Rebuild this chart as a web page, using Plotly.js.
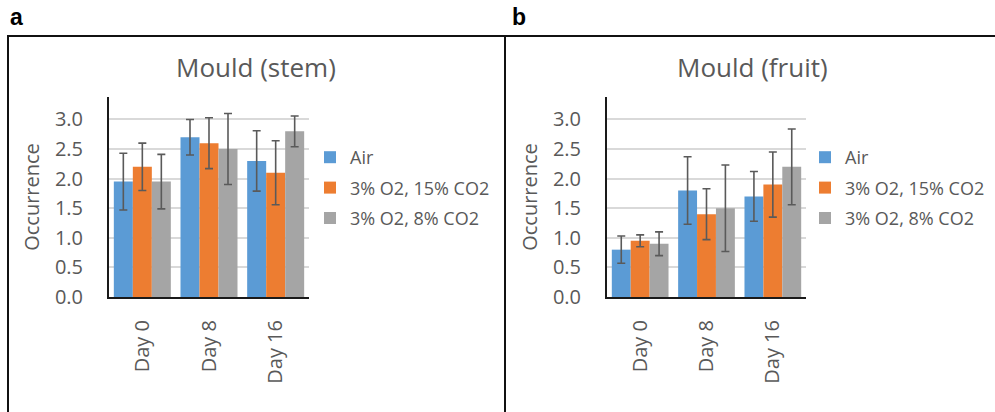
<!DOCTYPE html>
<html>
<head>
<meta charset="utf-8">
<script src="https://cdn.plot.ly/plotly-3.0.1.min.js"></script>
<style>
  html, body { margin: 0; padding: 0; background: #ffffff; }
  #chart { width: 995px; height: 412px; }
</style>
</head>
<body>
<div id="chart"></div>
<script>
// ---- data ----
const categories = ['Day 0', 'Day 8', 'Day 16'];
const seriesNames = ['Air', '3% O2, 15% CO2', '3% O2, 8% CO2'];

const stemAir = [1.95, 2.7, 2.3];
const stemAirErr = [0.48, 0.30, 0.51];
const stemO2CO2high = [2.2, 2.6, 2.1];
const stemO2CO2highErr = [0.40, 0.43, 0.54];
const stemO2CO2low = [1.95, 2.5, 2.8];
const stemO2CO2lowErr = [0.46, 0.60, 0.26];

const fruitAir = [0.8, 1.8, 1.7];
const fruitAirErr = [0.23, 0.57, 0.42];
const fruitO2CO2high = [0.95, 1.4, 1.9];
const fruitO2CO2highErr = [0.10, 0.43, 0.55];
const fruitO2CO2low = [0.9, 1.5, 2.2];
const fruitO2CO2lowErr = [0.20, 0.73, 0.64];

const panelTitles = ['Mould (stem)', 'Mould (fruit)'];
const panelLetters = ['a', 'b'];
const yTitle = 'Occurrence';

// ---- styling ----
const colors = ['#5B9BD5', '#ED7D31', '#A5A5A5'];
const textColor = '#595959';
const fontFamily = '"Open Sans", "DejaVu Sans", sans-serif';
const W = 995, H = 412;
const px = v => v / W;
const py = v => (H - v) / H;

function makeTrace(name, values, errs, ci, xa, ya, legendId) {
  return {
    type: 'bar',
    name: name,
    x: categories,
    y: values,
    xaxis: xa,
    yaxis: ya,
    legend: legendId,
    legendgroup: legendId + name,
    marker: { color: colors[ci], line: { width: 0 } },
    error_y: { type: 'data', array: errs, visible: true, color: '#5A5A5A', thickness: 1.6, width: 4 },
    hoverinfo: 'x+y+name'
  };
}

const data = [
  makeTrace(seriesNames[0], stemAir, stemAirErr, 0, 'x', 'y', 'legend'),
  makeTrace(seriesNames[1], stemO2CO2high, stemO2CO2highErr, 1, 'x', 'y', 'legend'),
  makeTrace(seriesNames[2], stemO2CO2low, stemO2CO2lowErr, 2, 'x', 'y', 'legend'),
  makeTrace(seriesNames[0], fruitAir, fruitAirErr, 0, 'x2', 'y2', 'legend2'),
  makeTrace(seriesNames[1], fruitO2CO2high, fruitO2CO2highErr, 1, 'x2', 'y2', 'legend2'),
  makeTrace(seriesNames[2], fruitO2CO2low, fruitO2CO2lowErr, 2, 'x2', 'y2', 'legend2')
];

const yRange = [0, 3.38];
function xAxis(domain, anchor) {
  return {
    domain: domain, anchor: anchor,
    showline: true, linecolor: '#1a1a1a', linewidth: 2,
    showgrid: false, zeroline: false,
    tickangle: -90, ticks: '', ticklabelstandoff: 13,
    tickfont: { family: fontFamily, size: 20, color: textColor },
    fixedrange: true
  };
}
function yAxis(domain, anchor) {
  return {
    domain: domain, anchor: anchor, range: yRange,
    dtick: 0.5, tick0: 0, tickformat: '.1f',
    showline: true, linecolor: '#1a1a1a', linewidth: 2,
    showgrid: true, gridcolor: '#D9D9D9', gridwidth: 1.5,
    zeroline: false, ticks: '', ticklabelstandoff: 20,
    tickfont: { family: fontFamily, size: 20, color: textColor },
    title: { text: yTitle, font: { family: fontFamily, size: 20, color: textColor }, standoff: 10 },
    fixedrange: true
  };
}

function legendDef(xPx) {
  return {
    x: px(xPx), y: py(139), xanchor: 'left', yanchor: 'top',
    traceorder: 'grouped', tracegroupgap: 4,
    font: { family: fontFamily, size: 18, color: textColor },
    bgcolor: 'rgba(0,0,0,0)', itemwidth: 30
  };
}

const lineColor = '#111111';
const layout = {
  width: W, height: H,
  margin: { l: 0, r: 0, t: 0, b: 0 },
  paper_bgcolor: '#ffffff', plot_bgcolor: '#ffffff',
  barmode: 'group', bargap: 0.145, bargroupgap: 0,
  showlegend: true,
  xaxis: xAxis([px(109), px(309)], 'y'),
  yaxis: yAxis([py(297), py(97)], 'x'),
  xaxis2: xAxis([px(607), px(806)], 'y2'),
  yaxis2: yAxis([py(297), py(97)], 'x2'),
  legend: legendDef(310),
  legend2: legendDef(805),
  annotations: [
    { text: panelTitles[0], xref: 'paper', yref: 'paper', x: px(256), y: py(67), xanchor: 'center', yanchor: 'middle', showarrow: false, font: { family: fontFamily, size: 26, color: textColor } },
    { text: panelTitles[1], xref: 'paper', yref: 'paper', x: px(752), y: py(67), xanchor: 'center', yanchor: 'middle', showarrow: false, font: { family: fontFamily, size: 26, color: textColor } },
    { text: '<b>' + panelLetters[0] + '</b>', xref: 'paper', yref: 'paper', x: px(8), y: py(17), xanchor: 'left', yanchor: 'middle', showarrow: false, font: { family: '"Liberation Sans", Arial, sans-serif', size: 23, color: '#000000' } },
    { text: '<b>' + panelLetters[1] + '</b>', xref: 'paper', yref: 'paper', x: px(510), y: py(17), xanchor: 'left', yanchor: 'middle', showarrow: false, font: { family: '"Liberation Sans", Arial, sans-serif', size: 23, color: '#000000' } }
  ],
  shapes: [
    { type: 'line', xref: 'paper', yref: 'paper', x0: px(7), x1: px(995), y0: py(36), y1: py(36), line: { color: lineColor, width: 2 } },
    { type: 'line', xref: 'paper', yref: 'paper', x0: px(8), x1: px(8), y0: py(36), y1: py(412), line: { color: lineColor, width: 2 } },
    { type: 'line', xref: 'paper', yref: 'paper', x0: px(505), x1: px(505), y0: py(36), y1: py(412), line: { color: lineColor, width: 2 } }
  ]
};

Plotly.newPlot('chart', data, layout, { displayModeBar: false, staticPlot: false });
</script>
</body>
</html>
